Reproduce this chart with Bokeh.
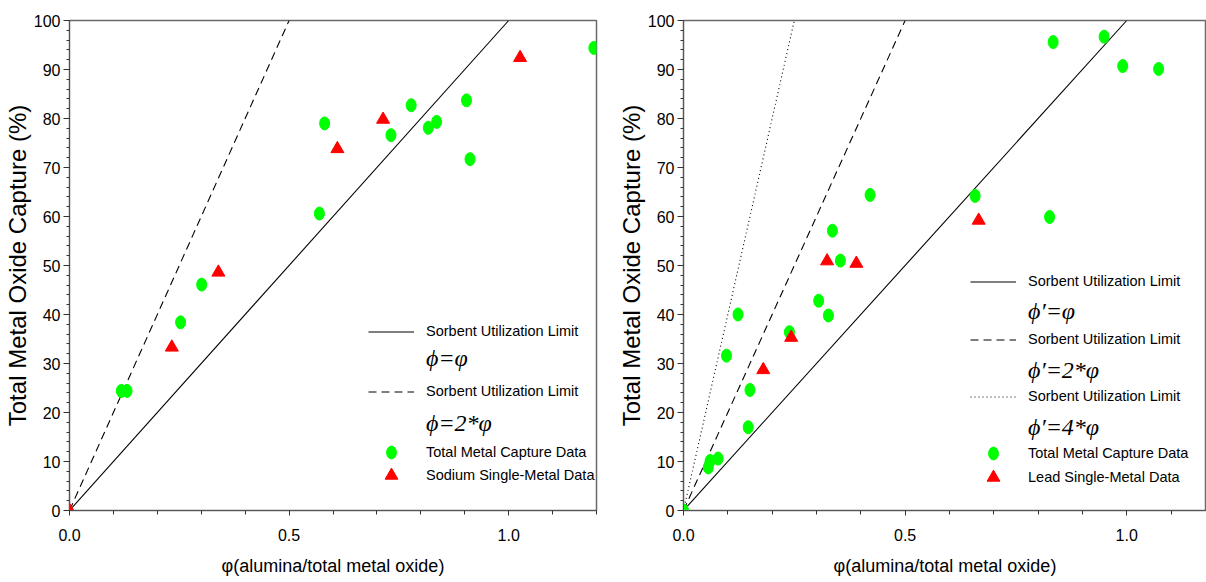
import numpy as np
from bokeh.plotting import figure
from bokeh.models import Legend, LegendItem, FixedTicker, NumeralTickFormatter, Range1d
from bokeh.layouts import row
from bokeh.embed import file_html
from bokeh.resources import INLINE

# ---------------- data ----------------
# Left panel: sodium
na_total_x = [0.118, 0.131, 0.253, 0.301, 0.569, 0.581, 0.732, 0.778, 0.817, 0.836, 0.904, 0.912, 1.194]
na_total_y = [24.4, 24.4, 38.4, 46.1, 60.6, 79.0, 76.6, 82.7, 78.1, 79.3, 83.7, 71.7, 94.4]
na_single_x = [0.0, 0.233, 0.339, 0.610, 0.714, 1.026]
na_single_y = [0.0, 33.3, 48.6, 73.8, 79.8, 92.4]

# Right panel: lead
pb_total_x = [0.0, 0.056, 0.060, 0.078, 0.097, 0.123, 0.146, 0.150, 0.239, 0.305,
              0.327, 0.336, 0.354, 0.421, 0.658, 0.826, 0.834, 0.949, 0.991, 1.072]
pb_total_y = [0.0, 8.8, 10.1, 10.6, 31.6, 40.0, 17.0, 24.6, 36.4, 42.8,
              39.8, 57.1, 51.0, 64.4, 64.2, 59.9, 95.6, 96.7, 90.7, 90.1]
pb_single_x = [0.180, 0.243, 0.324, 0.390, 0.666]
pb_single_y = [28.7, 35.3, 50.9, 50.4, 59.2]

# Sorbent utilization limit lines: capture = factor * 100 * phi
left_factors = [1, 2]
right_factors = [1, 2, 4]
left_formulas = ["\u03d5=\u03c6", "\u03d5=2*\u03c6"]
right_formulas = ["\u03d5\u2032=\u03c6", "\u03d5\u2032=2*\u03c6", "\u03d5\u2032=4*\u03c6"]
limit_label = "Sorbent Utilization Limit"
total_label = "Total Metal Capture Data"
left_single_label = "Sodium Single-Metal Data"
right_single_label = "Lead Single-Metal Data"

x_major = [0.0, 0.5, 1.0]
y_major = [0, 10, 20, 30, 40, 50, 60, 70, 80, 90, 100]
x_title = "\u03c6(alumina/total metal oxide)"
y_title = "Total Metal Oxide Capture (%)"
capture_max = 100

dash_styles = {1: "solid", 2: "8 5", 4: "1 3"}

# legend row centres, px above the bottom of the plot frame (layout only)
left_rows = [179, 152, 119, 87, 58, 35]
right_rows = [229, 199, 171, 140, 114, 83, 57, 33]

SANS = "Liberation Sans"
SERIF = "Liberation Serif"
GREEN = "#00ff00"
RED = "#ff0000"
FIG_H = 580


def add_row(p, label, renderer, centre, leg_x, font, size, style, gh):
    h = max(gh, 20)
    leg = Legend(items=[LegendItem(label=label, renderers=[renderer])],
                 location=(leg_x, centre - h / 2), orientation="vertical",
                 glyph_width=46, glyph_height=gh, label_height=h, label_width=10,
                 label_standoff=12, spacing=0, padding=0, margin=0,
                 border_line_color=None, background_fill_alpha=0,
                 label_text_font=font, label_text_font_size=size,
                 label_text_font_style=style, label_text_color="black")
    p.add_layout(leg, "center")


def make_panel(tx, ty, sx, sy, single_label, factors, formulas, x_end,
               width, border_left, border_right, leg_x, rows):
    p = figure(width=width, height=FIG_H, output_backend="svg", toolbar_location=None,
               x_range=Range1d(0, x_end), y_range=Range1d(0, capture_max),
               min_border_left=border_left, min_border_right=border_right,
               min_border_top=20, min_border_bottom=70)
    p.grid.visible = False
    p.outline_line_color = "#6a6a6a"
    p.outline_line_width = 1.5
    p.background_fill_color = "white"
    p.border_fill_color = "white"

    # axes
    p.xaxis.ticker = FixedTicker(ticks=x_major,
                                 minor_ticks=list(np.round(np.arange(0, x_end + 1e-9, 0.1), 2)))
    p.xaxis.formatter = NumeralTickFormatter(format="0.0")
    p.yaxis.ticker = FixedTicker(ticks=y_major, minor_ticks=list(range(0, 101, 2)))
    for ax in (p.xaxis, p.yaxis):
        ax.axis_line_color = "#555555"
        ax.major_tick_line_color = "#333333"
        ax.minor_tick_line_color = "#333333"
        ax.major_tick_in = 0
        ax.minor_tick_in = 0
        ax.major_label_text_font = SANS
        ax.major_label_text_font_size = "16px"
        ax.major_label_text_color = "black"
        ax.axis_label_text_font = SANS
        ax.axis_label_text_font_style = "normal"
        ax.axis_label_text_color = "black"
    p.xaxis.major_tick_out = 5
    p.xaxis.minor_tick_out = 4
    p.yaxis.major_tick_out = 6
    p.yaxis.minor_tick_out = 3
    p.xaxis.major_label_standoff = 13
    p.yaxis.major_label_standoff = 3
    p.xaxis.axis_label = x_title
    p.yaxis.axis_label = y_title
    p.xaxis.axis_label_text_font_size = "18px"
    p.yaxis.axis_label_text_font_size = "24px"
    p.xaxis.axis_label_standoff = 12
    p.yaxis.axis_label_standoff = 0

    blank = p.line(x=[], y=[], line_alpha=0)
    r = 0
    for k, formula in zip(factors, formulas):
        lx = [0.0, capture_max / (100.0 * k)]
        ly = [0.0, capture_max]
        ln = p.line(lx, ly, line_color="black", line_width=1.1, line_dash=dash_styles[k])
        add_row(p, limit_label, ln, rows[r], leg_x, SANS, "14.5px", "normal", 17)
        add_row(p, formula, blank, rows[r + 1], leg_x, SERIF, "24px", "italic", 28)
        r += 2

    rt = p.ellipse(x=tx, y=ty, width=10, height=13, width_units="screen", height_units="screen",
                   fill_color=GREEN, line_color=GREEN)
    rs = p.scatter(x=sx, y=sy, marker="triangle", size=13, fill_color=RED, line_color=RED)
    add_row(p, total_label, rt, rows[r], leg_x, SANS, "14.5px", "normal", 16)
    add_row(p, single_label, rs, rows[r + 1], leg_x, SANS, "14.5px", "normal", 32)
    return p


p1 = make_panel(na_total_x, na_total_y, na_single_x, na_single_y, left_single_label,
                left_factors, left_formulas, 1.2, 606, 68, 10, 299, left_rows)
p2 = make_panel(pb_total_x, pb_total_y, pb_single_x, pb_single_y, right_single_label,
                right_factors, right_formulas, 1.18, 600, 77, 0, 287, right_rows)

layout = row(p1, p2)
open("out.html", "w").write(file_html(layout, INLINE))
